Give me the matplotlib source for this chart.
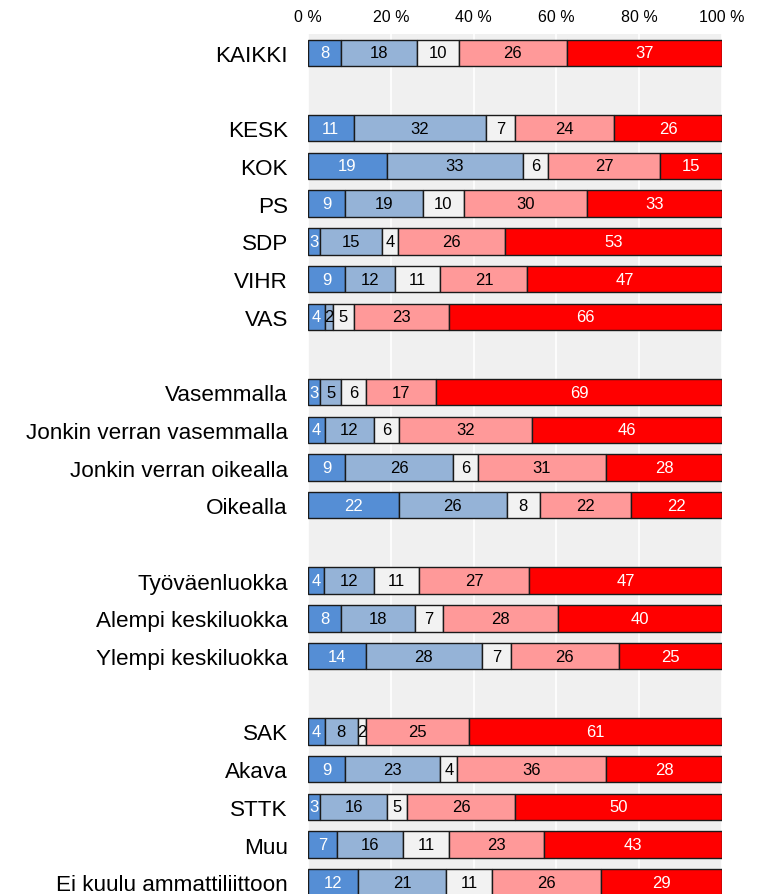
import numpy as np
import matplotlib.pyplot as plt

plt.rcParams['font.family'] = ['Liberation Sans', 'DejaVu Sans']

# rows (None = empty spacer row between groups)
categories = ["KAIKKI", None,
              "KESK", "KOK", "PS", "SDP", "VIHR", "VAS", None,
              "Vasemmalla", "Jonkin verran vasemmalla", "Jonkin verran oikealla", "Oikealla", None,
              "Työväenluokka", "Alempi keskiluokka", "Ylempi keskiluokka", None,
              "SAK", "Akava", "STTK", "Muu", "Ei kuulu ammattiliittoon"]

values = {
    "KAIKKI": [8, 18, 10, 26, 37],
    "KESK": [11, 32, 7, 24, 26],
    "KOK": [19, 33, 6, 27, 15],
    "PS": [9, 19, 10, 30, 33],
    "SDP": [3, 15, 4, 26, 53],
    "VIHR": [9, 12, 11, 21, 47],
    "VAS": [4, 2, 5, 23, 66],
    "Vasemmalla": [3, 5, 6, 17, 69],
    "Jonkin verran vasemmalla": [4, 12, 6, 32, 46],
    "Jonkin verran oikealla": [9, 26, 6, 31, 28],
    "Oikealla": [22, 26, 8, 22, 22],
    "Työväenluokka": [4, 12, 11, 27, 47],
    "Alempi keskiluokka": [8, 18, 7, 28, 40],
    "Ylempi keskiluokka": [14, 28, 7, 26, 25],
    "SAK": [4, 8, 2, 25, 61],
    "Akava": [9, 23, 4, 36, 28],
    "STTK": [3, 16, 5, 26, 50],
    "Muu": [7, 16, 11, 23, 43],
    "Ei kuulu ammattiliittoon": [12, 21, 11, 26, 29],
}

seg_colors = ["#558ed5", "#95b3d7", "#f2f2f2", "#ff9999", "#ff0000"]
text_colors = ["white", "black", "black", "black", "white"]

fig = plt.figure(figsize=(7.71, 8.95), dpi=100)
n = len(categories)
row_px = 37.7
top_px = 35
ax_h = n * row_px / 895
ax = fig.add_axes([308 / 771, 1 - top_px / 895 - ax_h, 414 / 771, ax_h])
ax.set_facecolor("#f0f0f0")

for i, cat in enumerate(categories):
    if cat is None:
        continue
    vals = np.array(values[cat], dtype=float)
    widths = vals / vals.sum() * 100
    left = 0
    for j, (v, w) in enumerate(zip(vals, widths)):
        ax.barh(i, w, left=left, height=0.7, color=seg_colors[j],
                edgecolor="#1a1a1a", linewidth=1.0, zorder=3)
        ax.text(left + w / 2, i, f"{int(v)}", ha="center", va="center",
                fontsize=12, color=text_colors[j], zorder=4)
        left += w

ax.set_xlim(0, 100)
ax.set_ylim(n - 0.5, -0.5)
ax.set_xticks([0, 20, 40, 60, 80, 100])
ax.set_xticklabels([f"{t} %" for t in [0, 20, 40, 60, 80, 100]], fontsize=11.5)
ax.xaxis.tick_top()
ax.tick_params(axis="x", length=0, pad=7)
ax.set_yticks([i for i, c in enumerate(categories) if c is not None])
ax.set_yticklabels([c for c in categories if c is not None], fontsize=16.2)
ax.tick_params(axis="y", length=0, pad=14.5)
ax.grid(axis="x", color="white", linewidth=1.2, zorder=1)
ax.set_axisbelow(True)
for s in ax.spines.values():
    s.set_visible(False)

fig.savefig("out.png", dpi=100)
